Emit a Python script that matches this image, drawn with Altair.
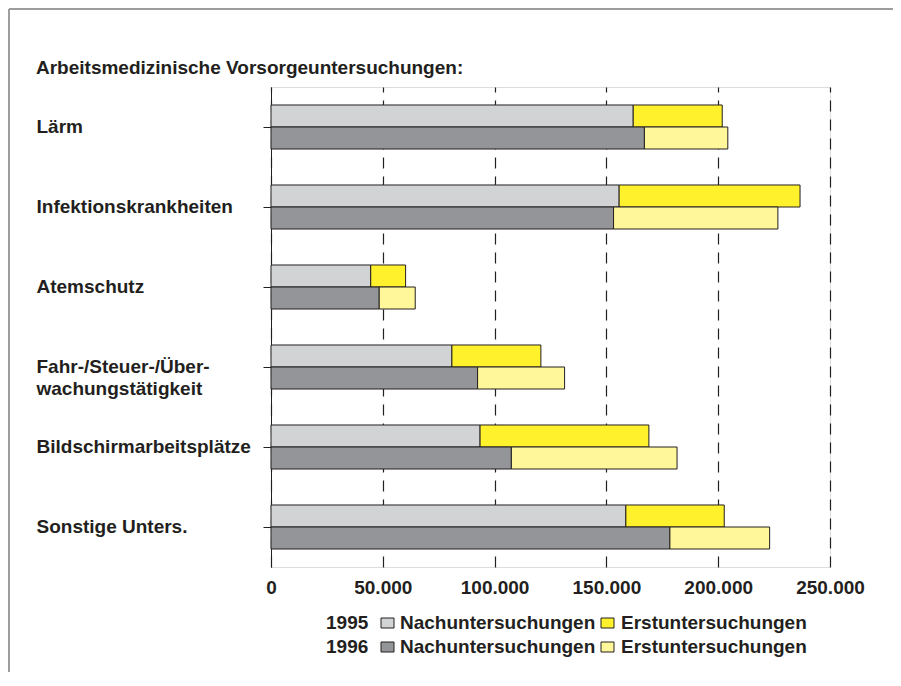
import altair as alt
import pandas as pd

# ---- data ----
categories = ["Lärm", "Infektionskrankheiten", "Atemschutz",
              "Fahr-/Steuer-/Über-\nwachungstätigkeit",
              "Bildschirmarbeitsplätze", "Sonstige Unters."]
nach_1995 = [162000, 155700, 44600, 80900, 93500, 158700]
erst_1995 = [39800, 80900, 15600, 39800, 75500, 44000]
nach_1996 = [167000, 153200, 48400, 92400, 107500, 178400]
erst_1996 = [37300, 73500, 16100, 38900, 74100, 44600]
years = ["1995", "1996"]
types = ["Nachuntersuchungen", "Erstuntersuchungen"]
x_ticks = [0, 50000, 100000, 150000, 200000, 250000]
title_text = "Arbeitsmedizinische Vorsorgeuntersuchungen:"

# ---- styling ----
INK = "#231f20"
FONT = "Liberation Sans"
FS = 19
colors = {
    "1995 Nachuntersuchungen": "#d1d3d4",
    "1995 Erstuntersuchungen": "#fff22d",
    "1996 Nachuntersuchungen": "#939598",
    "1996 Erstuntersuchungen": "#fff799",
}

rows = []
series = {"1995": (nach_1995, erst_1995), "1996": (nach_1996, erst_1996)}
for y in years:
    nach, erst = series[y]
    for c, n, e in zip(categories, nach, erst):
        rows.append({"cat": c, "year": y, "key": f"{y} Nachuntersuchungen", "start": 0, "end": n})
        rows.append({"cat": c, "year": y, "key": f"{y} Erstuntersuchungen", "start": n, "end": n + e})
df = pd.DataFrame(rows)

W, H = 559, 480

bars = alt.Chart(df).mark_bar(stroke=INK, strokeWidth=1).encode(
    x=alt.X("start:Q", scale=alt.Scale(domain=[0, 250000], nice=False),
            axis=alt.Axis(values=x_ticks, title=None, orient="bottom",
                          labelExpr="replace(format(datum.value, ','), ',', '.')",
                          labelFont=FONT, labelFontSize=FS, labelFontWeight="bold",
                          labelColor=INK, labelPadding=11, tickSize=0,
                          domain=False, grid=True, gridColor=INK, gridDash=[11, 8],
                          gridWidth=1.2, labelFlush=False)),
    x2="end:Q",
    y=alt.Y("cat:N", sort=categories, scale=alt.Scale(paddingInner=0, paddingOuter=0),
            axis=alt.Axis(title=None, orient="left", labelAlign="left",
                          labelBaseline="middle", labelPadding=227, tickSize=8,
                          tickColor=INK, domainColor=INK, grid=False,
                          labelExpr="split(datum.label, '\\n')",
                          labelFont=FONT, labelFontSize=FS, labelFontWeight="bold",
                          labelColor=INK, labelLineHeight=22, labelLimit=400)),
    yOffset=alt.YOffset("year:N", sort=years,
                        scale=alt.Scale(paddingInner=0, paddingOuter=0.818)),
    color=alt.Color("key:N", scale=alt.Scale(domain=list(colors.keys()),
                                             range=list(colors.values())), legend=None),
)

one = pd.DataFrame({"a": [0]})

title = alt.Chart(pd.DataFrame({"t": [title_text]})).mark_text(
    align="left", baseline="middle", font=FONT, fontSize=FS, fontWeight="bold", color=INK
).encode(x=alt.value(-235), y=alt.value(-19), text="t:N")

frame_top = alt.Chart(one).mark_rule(color="#9d9d9d", strokeWidth=2).encode(
    x=alt.value(-262), x2=alt.value(640), y=alt.value(-78))
frame_left = alt.Chart(one).mark_rule(color="#9d9d9d", strokeWidth=2).encode(
    x=alt.value(-262), y=alt.value(-78), y2=alt.value(620))

legend_layers = []
row_y = [536, 560]
for i, yr in enumerate(years):
    ly = row_y[i]
    legend_layers.append(
        alt.Chart(pd.DataFrame({"t": [yr]})).mark_text(
            align="left", baseline="middle", font=FONT, fontSize=FS,
            fontWeight="bold", color=INK
        ).encode(x=alt.value(55), y=alt.value(ly), text="t:N"))
    for j, tp in enumerate(types):
        sx = [110, 330][j]
        tx = [129, 350][j]
        legend_layers.append(
            alt.Chart(one).mark_rect(fill=colors[f"{yr} {tp}"], stroke=INK, strokeWidth=1).encode(
                x=alt.value(sx), x2=alt.value(sx + 13),
                y=alt.value(ly - 5), y2=alt.value(ly + 5)))
        legend_layers.append(
            alt.Chart(pd.DataFrame({"t": [tp]})).mark_text(
                align="left", baseline="middle", font=FONT, fontSize=FS,
                fontWeight="bold", color=INK
            ).encode(x=alt.value(tx), y=alt.value(ly), text="t:N"))

chart = alt.layer(bars, title, frame_top, frame_left, *legend_layers).properties(
    width=W, height=H,
    autosize=alt.AutoSizeParams(type="none"),
    padding={"left": 263, "top": 79, "right": 63, "bottom": 105},
).configure_view(stroke=INK, strokeWidth=1).configure(background="white")

chart.save("out.html", embed_options={"renderer": "svg", "actions": False})
